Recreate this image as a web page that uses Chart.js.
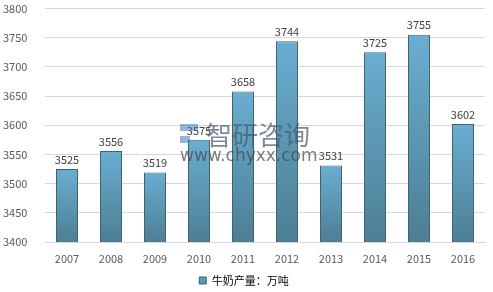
<!DOCTYPE html>
<html>
<head>
<meta charset="utf-8">
<script src="https://cdn.jsdelivr.net/npm/chart.js@4/dist/chart.umd.min.js"></script>
<style>
  html, body { margin: 0; padding: 0; background: #fff; }
  #wrap { width: 493px; height: 292px; }
</style>
</head>
<body>
<div id="wrap"><canvas id="myChart" width="493" height="292"></canvas></div>
<script>
// dati
const anni = ['2007', '2008', '2009', '2010', '2011', '2012', '2013', '2014', '2015', '2016'];
const produzione = [3525, 3556, 3519, 3575, 3658, 3744, 3531, 3725, 3755, 3602];
const tickY = [3400, 3450, 3500, 3550, 3600, 3650, 3700, 3750, 3800];
const serieNome = '牛奶产量：万吨';

const fontFam = '"Noto Sans CJK SC", "DejaVu Sans", sans-serif';

// etichette sopra le barre
const valueLabels = {
    id: 'valueLabels',
    afterDatasetsDraw(chart) {
        const ctx = chart.ctx;
        const meta = chart.getDatasetMeta(0);
        ctx.save();
        ctx.font = '11px ' + fontFam;
        ctx.fillStyle = '#404040';
        ctx.textAlign = 'center';
        ctx.textBaseline = 'bottom';
        meta.data.forEach((bar, i) => {
            ctx.fillText(produzione[i], bar.x, bar.y - 4);
        });
        ctx.restore();
    }
};

// filigrana
const watermark = {
    id: 'watermark',
    afterDraw(chart) {
        const ctx = chart.ctx;
        ctx.save();
        ctx.fillStyle = 'rgba(70, 90, 110, 0.7)';
        ctx.font = '26px ' + fontFam;
        ctx.textBaseline = 'middle';
        ctx.fillText('智研咨询', 206, 135);
        ctx.fillStyle = 'rgba(70, 70, 70, 0.7)';
        ctx.font = '17px "DejaVu Sans", sans-serif';
        ctx.fillText('www.chyxx.com', 180, 157);
        // piccolo logo
        ctx.fillStyle = 'rgba(60, 120, 180, 0.55)';
        ctx.fillRect(180, 124, 18, 7);
        ctx.fillRect(180, 136, 10, 7);
        ctx.restore();
    }
};

// gradiente per ogni barra: chiaro in alto, scuro in basso
function barGradient(c) {
    const chart = c.chart;
    if (!chart.chartArea || !chart.scales.y) return '#5b99b7';
    const y = chart.scales.y;
    const top = y.getPixelForValue(produzione[c.dataIndex]);
    const bottom = y.getPixelForValue(3400);
    const g = chart.ctx.createLinearGradient(0, top, 0, bottom);
    g.addColorStop(0, '#6aaed1');
    g.addColorStop(1, '#4d7e94');
    return g;
}

const ctx = document.getElementById('myChart').getContext('2d');

new Chart(ctx, {
    type: 'bar',
    data: {
        labels: anni,
        datasets: [{
            label: serieNome,
            data: produzione,
            backgroundColor: barGradient,
            borderColor: '#3e6474',
            borderWidth: 1,
            categoryPercentage: 1,
            barPercentage: 0.5
        }]
    },
    options: {
        responsive: false,
        animation: false,
        layout: { padding: { left: 3, right: 8, top: 0, bottom: -4 } },
        plugins: {
            legend: {
                position: 'bottom',
                labels: {
                    boxWidth: 7,
                    boxHeight: 7,
                    padding: 8,
                    color: '#404040',
                    font: { family: fontFam, size: 11 },
                    generateLabels: () => [{
                        text: serieNome,
                        fillStyle: '#5b99b7',
                        strokeStyle: '#3e6474',
                        lineWidth: 1
                    }]
                }
            },
            tooltip: { enabled: false }
        },
        scales: {
            x: {
                grid: { display: false },
                border: { color: '#d9d9d9' },
                ticks: { color: '#595959', font: { family: fontFam, size: 11, lineHeight: 1 }, padding: 3 }
            },
            y: {
                min: 3400,
                max: 3800,
                afterBuildTicks: (axis) => { axis.ticks = tickY.map(v => ({ value: v })); },
                afterFit: (axis) => { axis.width = 42; },
                grid: { color: '#d9d9d9', drawTicks: false },
                border: { display: false },
                ticks: {
                    color: '#595959',
                    font: { family: fontFam, size: 11, lineHeight: 1 },
                    padding: 3,
                    crossAlign: 'far',
                    callback: (v) => String(v)
                }
            }
        }
    },
    plugins: [valueLabels, watermark]
});
</script>
</body>
</html>
